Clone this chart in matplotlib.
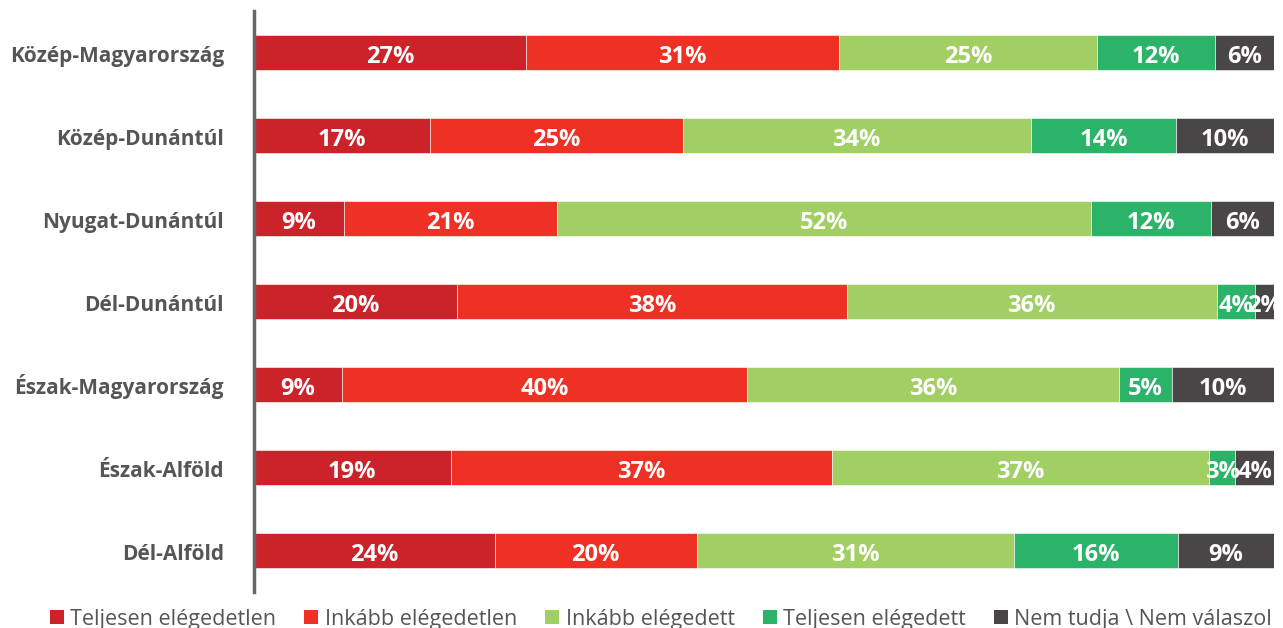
import matplotlib
matplotlib.use("Agg")
import matplotlib.pyplot as plt
import matplotlib.transforms as mtransforms
import numpy as np
from matplotlib.patches import Patch

regions = ["Közép-Magyarország", "Közép-Dunántúl", "Nyugat-Dunántúl", "Dél-Dunántúl",
           "Észak-Magyarország", "Észak-Alföld", "Dél-Alföld"]
series = ["Teljesen elégedetlen", "Inkább elégedetlen", "Inkább elégedett",
          "Teljesen elégedett", "Nem tudja \\ Nem válaszol"]
teljesen_elegedetlen = [26.7, 17.3, 8.8, 19.9, 8.6, 19.3, 23.6]
inkabb_elegedetlen = [30.7, 24.8, 20.9, 38.2, 39.7, 37.4, 19.8]
inkabb_elegedett = [25.3, 34.2, 52.4, 36.3, 36.4, 37.0, 31.1]
teljesen_elegedett = [11.6, 14.3, 11.8, 3.7, 5.2, 2.6, 16.1]
nem_tudja = [5.8, 9.6, 6.2, 1.9, 10.0, 3.8, 9.4]

colors = ["#CC2229", "#EE3124", "#A1CF63", "#2BB36A", "#4A4546"]

plt.rcParams['font.family'] = ['Open Sans', 'DejaVu Sans']

data = np.array([teljesen_elegedetlen, inkabb_elegedetlen, inkabb_elegedett,
                 teljesen_elegedett, nem_tudja])
totals = data.sum(axis=0)
norm = data / totals * 100

fig = plt.figure(figsize=(12.83, 6.28), dpi=100)
ax = fig.add_axes([254/1283, 1 - 592/628, (1274 - 254)/1283, (592 - 11)/628])

y = np.arange(len(regions))
left = np.zeros(len(regions))
for i, (name, col) in enumerate(zip(series, colors)):
    ax.barh(y, norm[i], left=left, height=0.42, color=col, edgecolor='white',
            linewidth=0.4, label=name)
    for j in range(len(regions)):
        ax.text(left[j] + norm[i][j] / 2, y[j] + 0.13, f"{round(data[i][j]):d}%",
                ha='center', va='baseline', color='white', fontsize=17,
                fontweight='bold', clip_on=True)
    left += norm[i]

ax.set_xlim(0, 100)
ax.set_ylim(6.5, -0.5)
ax.set_yticks([])
ax.set_xticks([])
trans = mtransforms.blended_transform_factory(ax.transAxes, ax.transData)
for j, name in enumerate(regions):
    ax.text(-0.0294, y[j] + 0.11, name, transform=trans, ha='right', va='baseline',
            fontsize=15, fontweight='bold', color='#555555', clip_on=False)
for s in ['top', 'right', 'bottom']:
    ax.spines[s].set_visible(False)
ax.spines['left'].set_color('#666666')
ax.spines['left'].set_linewidth(2.5)

handles = [Patch(facecolor=c, edgecolor='none') for c in colors]
fig.legend(handles, series, loc='center left', bbox_to_anchor=(50/1283, 1 - 619/628),
           ncol=5, frameon=False, fontsize=15.5, handlelength=0.65, handleheight=0.65,
           handletextpad=0.3, columnspacing=1.3, labelcolor='#555555',
           borderpad=0, borderaxespad=0)

fig.savefig("out.png", dpi=100)
